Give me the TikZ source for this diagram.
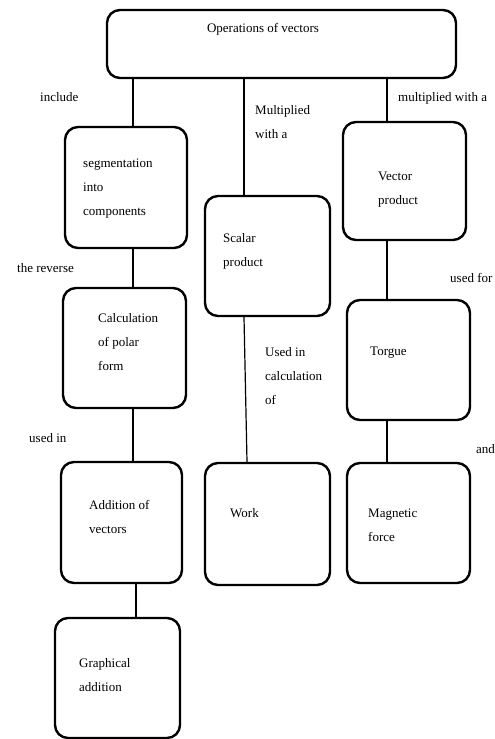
\documentclass[tikz,border=0pt]{standalone}
\usepackage{fontspec}
\setmainfont{Liberation Serif}
\usetikzlibrary{positioning}

\begin{document}
\begin{tikzpicture}[x=1pt,y=-1pt,
    box/.style={draw,line width=2.4pt,rounded corners=13pt,minimum width=123pt,minimum height=120pt,inner sep=0pt},
    link/.style={line width=1.2pt},
    txt/.style={font=\fontsize{13}{24}\selectfont,align=left,inner sep=0pt,anchor=west}]
    \useasboundingbox (0,0) rectangle (495,739);

    % boxes
    \node[box,minimum width=349pt,minimum height=68pt] (ops) at (281.5,44) {};
    \node[box,minimum width=122pt,minimum height=121pt] (seg) at (126,187.5) {};
    \node[box,minimum width=125pt] (scalar) at (267.5,256) {};
    \node[box,minimum height=118pt] (vector) at (404.5,181) {};
    \node[box] (calc) at (124.5,348) {};
    \node[box] (torque) at (408.5,360) {};
    \node[box,minimum width=121pt,minimum height=121pt] (add) at (121.5,522.5) {};
    \node[box,minimum width=125pt,minimum height=122pt] (work) at (267.5,524) {};
    \node[box] (magnetic) at (408.5,523) {};
    \node[box,minimum width=125pt] (graph) at (117.5,678) {};

    % texts in boxes
    \node[txt,anchor=center] (tops) at (263,29) {Operations of vectors};
    \node[txt] (tseg) at (83,188.5) {segmentation\\into\\components};
    \node[txt] (tscalar) at (223,251) {Scalar\\product};
    \node[txt] (tvector) at (378,189.5) {Vector\\product};
    \node[txt] (tcalc) at (98,342.5) {Calculation\\of polar\\form};
    \node[txt] (ttorque) at (370,353) {Torgue};
    \node[txt] (tadd) at (89,517) {Addition of\\vectors};
    \node[txt] (twork) at (230,513) {Work};
    \node[txt] (tmagnetic) at (368,525.5) {Magnetic\\force};
    \node[txt] (tgraph) at (79,675) {Graphical\\addition};

    % connectors
    \draw[link] (ops.south -| 133,0) -- (seg.north -| 133,0);
    \draw[link] (ops.south -| 244,0) -- (scalar.north -| 244,0);
    \draw[link] (ops.south -| 387,0) -- (vector.north -| 387,0);
    \draw[link] (seg.south -| 133,0) -- (calc.north -| 133,0);
    \draw[link] (scalar.south -| 244,0) -- (work.north -| 247,0);
    \draw[link] (vector.south -| 387,0) -- (torque.north -| 387,0);
    \draw[link] (calc.south -| 133,0) -- (add.north -| 133,0);
    \draw[link] (torque.south -| 387,0) -- (magnetic.north -| 387,0);
    \draw[link] (add.south -| 136,0) -- (graph.north -| 136,0);

    % connector labels
    \node[txt] (linclude) at (40,97) {include};
    \node[txt] (lscalar) at (255,122.5) {Multiplied\\with a};
    \node[txt] (lvector) at (398,98) {multiplied with a};
    \node[txt] (lreverse) at (17,268) {the reverse};
    \node[txt] (lusedfor) at (450,278) {used for};
    \node[txt] (lwork) at (265,376) {Used in\\calculation\\of};
    \node[txt] (lusedin) at (29,438) {used in};
    \node[txt] (land) at (476,449) {and};
\end{tikzpicture}
\end{document}
